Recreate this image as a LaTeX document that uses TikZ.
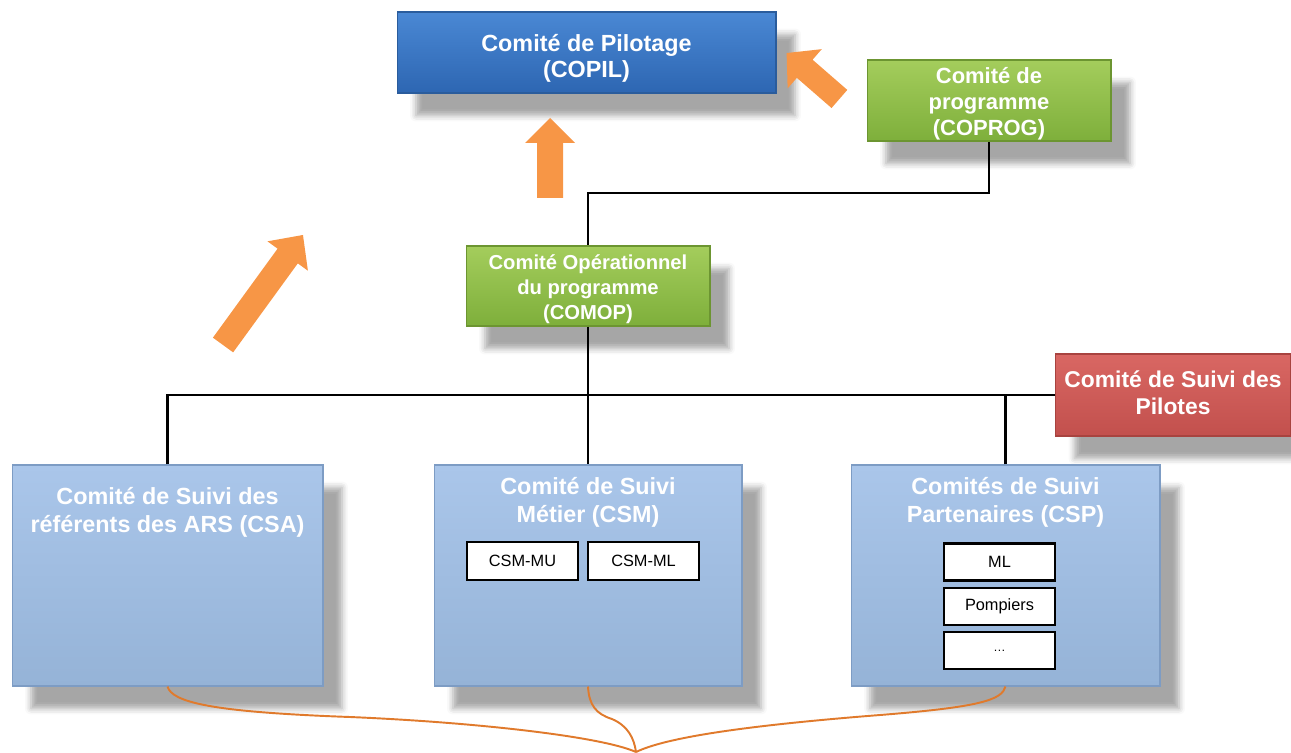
\documentclass[tikz,border=0pt]{standalone}
\usepackage{fontspec}
\setmainfont{Liberation Sans}
\usetikzlibrary{shadows.blur}

\definecolor{copilTop}{HTML}{4A88D4}
\definecolor{copilBot}{HTML}{2D66B2}
\definecolor{copilLine}{HTML}{2A5C9C}
\definecolor{greenTop}{HTML}{A4CD5C}
\definecolor{greenBot}{HTML}{7EAF3B}
\definecolor{greenLine}{HTML}{6C9531}
\definecolor{redTop}{HTML}{D96763}
\definecolor{redBot}{HTML}{C2504D}
\definecolor{redLine}{HTML}{A8433F}
\definecolor{paleTop}{HTML}{AAC6EA}
\definecolor{paleBot}{HTML}{95B3D7}
\definecolor{paleLine}{HTML}{7D9CC4}
\definecolor{arrowOrange}{HTML}{F79646}
\definecolor{braceOrange}{HTML}{E07A2C}

\begin{document}
\begin{tikzpicture}[x=0.02cm, y=-0.02cm,
  panel/.style={rectangle, inner sep=0pt, line width=0.6pt,
    blur shadow={shadow xshift=0.38cm, shadow yshift=-0.45cm, shadow opacity=35, shadow blur radius=0.12cm}},
  darkbluebox/.style={panel, draw=copilLine, top color=copilTop, bottom color=copilBot},
  greenbox/.style={panel, draw=greenLine, top color=greenTop, bottom color=greenBot},
  redbox/.style={panel, draw=redLine, top color=redTop, bottom color=redBot},
  palebox/.style={panel, draw=paleLine, top color=paleTop, bottom color=paleBot},
  paneltext/.style={text=white, align=center, inner sep=0pt,
    font=\bfseries\fontsize{13}{15}\selectfont},
  paneltitle/.style={paneltext, anchor=north, font=\bfseries\fontsize{13.3}{15.8}\selectfont},
  subbox/.style={draw=black, line width=1.2pt, fill=white, inner sep=0pt,
    font=\fontsize{9.3}{11}\selectfont, minimum width=2.22cm, minimum height=0.74cm},
  link/.style={draw=black, line width=1.4pt},
  brace/.style={draw=braceOrange, line width=1.1pt},
  bigarrow/.style={fill=arrowOrange}
]
\useasboundingbox (0,0) rectangle (1291,753);

% upper committees
\node[darkbluebox, minimum width=7.58cm, minimum height=1.62cm] (copil) at (586.5,52.5) {};
\node[paneltext, font=\bfseries\fontsize{13.3}{14.5}\selectfont] (copilT)
  at ([yshift=-3.2pt]copil.center) {Comité de Pilotage\\(COPIL)};

\node[greenbox, minimum width=4.88cm, minimum height=1.62cm] (coprog) at (989,100.5) {};
\node[paneltext, font=\bfseries\fontsize{12.5}{15}\selectfont] (coprogT)
  at ([yshift=-1.8pt]coprog.center) {Comité de\\programme\\(COPROG)};

\node[greenbox, minimum width=4.88cm, minimum height=1.60cm] (comop) at (588,286) {};
\node[paneltext, font=\bfseries\fontsize{11.5}{14}\selectfont] (comopT)
  at ([yshift=-1.8pt]comop.center) {Comité Opérationnel\\du programme\\(COMOP)};

\node[redbox, minimum width=4.70cm, minimum height=1.64cm] (pilotes) at (1173,395) {};
\node[paneltext] (pilotesT) at ([yshift=1.2pt]pilotes.center)
  {Comité de Suivi des\\Pilotes};

% follow-up committees
\node[palebox, minimum width=6.22cm, minimum height=4.42cm] (csa) at (167.5,575.5) {};
\node[paneltitle] (csaT) at ([yshift=-13pt]csa.north)
  {Comité de Suivi des\\référents des ARS (CSA)};

\node[palebox, minimum width=6.16cm, minimum height=4.42cm] (csm) at (588,575.5) {};
\node[paneltitle] (csmT) at ([yshift=-7pt]csm.north)
  {Comité de Suivi\\Métier (CSM)};
\node[subbox, minimum height=0.76cm] (csmmu) at (522.5,561) {CSM-MU};
\node[subbox, minimum height=0.76cm] (csmml) at (643.5,561) {CSM-ML};

\node[palebox, minimum width=6.18cm, minimum height=4.42cm] (csp) at (1005.5,575.5) {};
\node[paneltitle] (cspT) at ([yshift=-7pt]csp.north)
  {Comités de Suivi\\Partenaires (CSP)};
\node[subbox] (ml) at (999.5,562) {ML};
\node[subbox] (pompiers) at (999.5,606.5) {Pompiers};
\node[subbox] (autres) at (999.5,650.5) {\fontsize{7}{8}\selectfont\dots};

% hierarchy links
\coordinate (split) at (588,193);
\draw[link] (coprog.south) |- (split) -- (comop.north);
\draw[link] (comop.south) -- (csm.north);
\draw[link] (csa.north) |- (pilotes.west);
\draw[link] (csp.north) -- (csp.north |- pilotes.west);

% orange block arrows
\fill[bigarrow, shift={(550,158)}, rotate=90]
  (-40,13) -- (15,13) -- (15,25) -- (40,0) -- (15,-25) -- (15,-13) -- (-40,-13) -- cycle;
\fill[bigarrow, shift={(263,290)}, rotate=54]
  (-68,12.5) -- (42,12.5) -- (42,25) -- (68,0) -- (42,-25) -- (42,-12.5) -- (-68,-12.5) -- cycle;
\fill[bigarrow, shift={(813,76)}, rotate=139]
  (-35,12) -- (11,12) -- (11,26) -- (35,0) -- (11,-26) -- (11,-12) -- (-35,-12) -- cycle;

% brace gathering the three follow-up committees
\coordinate (tip) at (636,752);
\draw[brace] (csa.south) .. controls (172,702) and (210,712) .. (350,717)
  .. controls (470,722) and (600,736) .. (tip);
\draw[brace] (csm.south) .. controls (589,705) and (596,714) .. (612,719)
  .. controls (628,726) and (634,738) .. (tip);
\draw[brace] (csp.south) .. controls (1002,700) and (980,707) .. (880,715)
  .. controls (740,726) and (665,738) .. (tip);
\end{tikzpicture}
\end{document}
